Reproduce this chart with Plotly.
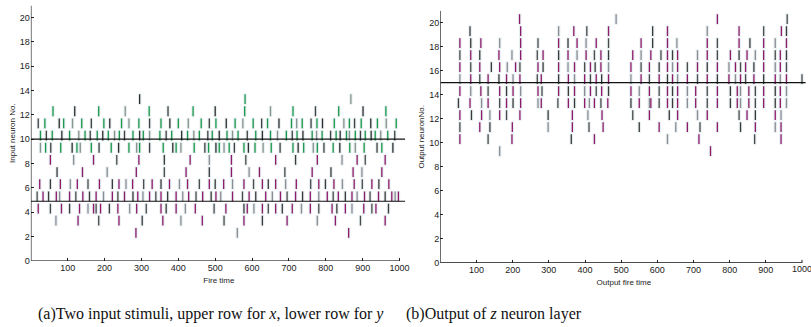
import plotly.graph_objects as go

# ---------------- data: spike times per neuron row ----------------
# (a) input stimuli: rows 2..13 (x stimulus: rows 8..13 mostly green; y stimulus: rows 2..8 purple)
in_row13 = [295, 581, 868]
in_row12 = [60, 119, 184, 256, 321, 372, 440, 500, 580, 650, 711, 772, 835, 901, 963]
in_row11 = [20, 38, 77, 89, 113, 138, 164, 198, 214, 246, 266, 293, 322, 353, 377, 400, 427, 462,
            484, 502, 530, 554, 575, 603, 626, 642, 673, 707, 721, 736, 760, 776, 791, 823, 849,
            864, 878, 896, 922, 940, 964, 991]
in_row10 = [26, 42, 58, 84, 105, 130, 147, 161, 180, 195, 210, 227, 240, 254, 277, 295, 305, 322,
            350, 367, 382, 409, 425, 442, 457, 480, 492, 511, 532, 547, 562, 587, 610, 628, 650,
            669, 693, 709, 722, 738, 763, 775, 790, 813, 828, 839, 856, 864, 880, 894, 907, 923,
            934, 949, 968, 987]
in_row09 = [26, 40, 54, 81, 112, 125, 134, 164, 185, 218, 238, 266, 287, 295, 322, 359, 385, 394,
            407, 443, 472, 482, 502, 511, 524, 538, 552, 578, 590, 608, 630, 652, 676, 711, 725,
            740, 766, 777, 795, 820, 838, 865, 880, 904, 939, 952, 982]
in_row08 = [53, 116, 170, 233, 293, 362, 432, 484, 544, 583, 664, 718, 777, 844, 885, 907, 961]
in_row07 = [71, 140, 207, 286, 362, 421, 484, 544, 592, 620, 689, 763, 814, 874, 898, 952]
in_row06 = [24, 53, 80, 107, 126, 155, 186, 221, 239, 258, 276, 306, 329, 353, 376, 403, 425, 457,
            484, 500, 523, 547, 578, 604, 628, 644, 664, 691, 720, 759, 781, 799, 822, 845, 877,
            899, 925, 944, 971]
in_row05 = [17, 33, 48, 69, 78, 105, 122, 141, 159, 177, 197, 221, 236, 254, 277, 290, 304, 322,
            339, 353, 371, 394, 412, 428, 448, 466, 489, 502, 515, 547, 574, 592, 610, 637, 655,
            677, 695, 718, 737, 758, 781, 804, 820, 834, 853, 871, 885, 905, 920, 943, 961, 979,
            988, 997]
in_row04 = [20, 53, 83, 105, 132, 155, 170, 177, 189, 213, 236, 268, 287, 313, 353, 367, 394, 419,
            446, 497, 529, 578, 587, 605, 628, 644, 664, 682, 709, 734, 758, 781, 817, 830, 853,
            871, 903, 925, 936, 970]
in_row03 = [68, 128, 184, 239, 302, 358, 407, 465, 524, 578, 628, 695, 777, 826, 894, 961]
in_row02 = [285, 560, 862]

# (b) output of z neuron layer: rows 9..20
out_row20 = [219, 486, 766, 959]
out_row19 = [82, 222, 327, 369, 405, 465, 587, 628, 738, 826, 894, 943, 957]
out_row18 = [54, 84, 112, 164, 222, 270, 327, 353, 378, 403, 431, 465, 555, 587, 628, 654, 738,
             766, 826, 856, 894, 926, 957]
out_row17 = [54, 84, 109, 162, 198, 222, 268, 284, 327, 353, 378, 403, 426, 444, 465, 532, 555,
             582, 610, 628, 642, 656, 711, 738, 766, 802, 826, 848, 871, 894, 926, 940, 957]
out_row16 = [54, 84, 109, 141, 164, 185, 208, 220, 270, 284, 327, 353, 371, 399, 415, 428, 444,
             465, 527, 555, 578, 605, 628, 642, 656, 683, 711, 738, 766, 798, 816, 830, 844, 867,
             894, 926, 940, 957]
out_row15 = [54, 84, 109, 132, 162, 183, 201, 220, 268, 279, 327, 354, 371, 399, 415, 431, 446,
             465, 527, 555, 578, 605, 628, 642, 656, 683, 711, 738, 766, 798, 816, 830, 844, 867,
             894, 926, 940, 957, 1000]
out_row14 = [54, 84, 112, 132, 164, 183, 201, 222, 270, 281, 327, 354, 371, 399, 415, 431, 446,
             465, 527, 550, 578, 605, 628, 642, 656, 683, 706, 738, 766, 802, 821, 830, 853, 871,
             894, 926, 940, 957]
out_row13 = [50, 82, 114, 132, 164, 183, 201, 222, 270, 279, 325, 354, 371, 399, 412, 426, 444,
             463, 527, 550, 578, 582, 605, 628, 642, 656, 683, 706, 738, 766, 802, 821, 830, 853,
             871, 894, 926, 940, 957]
out_row12 = [54, 86, 114, 137, 164, 183, 220, 298, 365, 408, 447, 532, 578, 633, 656, 711, 738,
             826, 848, 871, 926, 942]
out_row11 = [54, 109, 137, 199, 298, 365, 411, 450, 550, 605, 651, 683, 718, 766, 830, 871, 926, 942]
out_row10 = [54, 132, 198, 362, 426, 628, 715, 869, 942]
out_row09 = [164, 747]

in_rows = {13: in_row13, 12: in_row12, 11: in_row11, 10: in_row10, 9: in_row09, 8: in_row08,
           7: in_row07, 6: in_row06, 5: in_row05, 4: in_row04, 3: in_row03, 2: in_row02}
out_rows = {20: out_row20, 19: out_row19, 18: out_row18, 17: out_row17, 16: out_row16,
            15: out_row15, 14: out_row14, 13: out_row13, 12: out_row12, 11: out_row11,
            10: out_row10, 9: out_row09}

x_ticks = [100, 200, 300, 400, 500, 600, 700, 800, 900, 1000]
y_ticks = [0, 2, 4, 6, 8, 10, 12, 14, 16, 18, 20]

GREEN_CYCLE = ["#18984a", "#2e2e2e", "#18984a", "#8a948e", "#18984a", "#404040"]
PURPLE_CYCLE = ["#8e1a6a", "#3a3a3a", "#8e1a6a", "#8d8d95", "#8e1a6a", "#4a4a4a"]
ROW_OFFSET = 0.3


def spike_traces(rows, xaxis, yaxis, green_rows, size):
    xs, ys, cols = [], [], []
    for row, times in rows.items():
        cyc = GREEN_CYCLE if row in green_rows else PURPLE_CYCLE
        for i, t in enumerate(times):
            xs.append(t)
            ys.append(row + ROW_OFFSET)
            cols.append(cyc[(i + row) % len(cyc)])
    halo = go.Scatter(x=xs, y=ys, mode="markers", xaxis=xaxis, yaxis=yaxis, hoverinfo="skip",
                      marker=dict(symbol="line-ns", size=size + 1,
                                  line=dict(width=3.5, color="rgba(185,210,215,0.35)")))
    core = go.Scatter(x=xs, y=ys, mode="markers", xaxis=xaxis, yaxis=yaxis,
                      marker=dict(symbol="line-ns", size=size, line=dict(width=1.3, color=cols)))
    return [halo, core]


fig = go.Figure()
for tr in spike_traces(in_rows, "x", "y", {9, 10, 11, 12, 13}, 7):
    fig.add_trace(tr)
for tr in spike_traces(out_rows, "x2", "y2", set(), 7):
    fig.add_trace(tr)

TICKFONT = dict(family="Liberation Sans, Arial", size=9, color="#222")
TITLEFONT = dict(family="Liberation Sans, Arial", size=8, color="#222")

# last tick label of the right panel runs past the page edge (cut off in the original);
# it is drawn on a hidden helper axis occupying the strip below the right panel
LABEL_LEVEL = 0.88
fig.add_trace(go.Scatter(x=[x_ticks[-1]], y=[LABEL_LEVEL], mode="text",
                         text=[str(x_ticks[-1])], textposition="middle center", textfont=TICKFONT,
                         cliponaxis=False, xaxis="x2", yaxis="y3", hoverinfo="skip"))

common_x = dict(range=[0, 1020], tickvals=x_ticks, ticks="inside", ticklen=3, tickcolor="#222",
                showgrid=False, zeroline=False, showline=False, tickfont=TICKFONT)
common_y = dict(range=[0, 21], tickvals=y_ticks, ticks="inside", ticklen=3, tickcolor="#222",
                showgrid=False, zeroline=False, showline=False, tickfont=TICKFONT)

fig.update_layout(
    width=811, height=327, margin=dict(l=0, r=0, t=0, b=0),
    paper_bgcolor="white", plot_bgcolor="white", showlegend=False,
    xaxis=dict(domain=[0.0382, 0.5036], anchor="y",
               title=dict(text="Fire time", font=TITLEFONT, standoff=5), **common_x),
    yaxis=dict(domain=[0.19, 0.983], anchor="x",
               title=dict(text="Input neuron No.", font=TITLEFONT, standoff=3), **common_y),
    xaxis2=dict(domain=[0.545, 0.9993], anchor="y2",
                title=dict(text="Output fire time", font=TITLEFONT, standoff=5),
                **{**common_x, "range": [0, 1015], "tickvals": x_ticks[:-1]}),
    yaxis2=dict(domain=[0.1835, 0.967], anchor="x2",
                title=dict(text="Output neuronNo.", font=TITLEFONT, standoff=3), **common_y),
    yaxis3=dict(domain=[0.0, 0.1835], range=[0, 1], anchor="x2", visible=False,
                showgrid=False, zeroline=False, fixedrange=True),
)

fig.add_shape(type="line", xref="x2", yref="y2", x0=x_ticks[-1], x1=x_ticks[-1], y0=0, y1=0.25,
              line=dict(color="#222", width=1))

# spines (axis lines) and separator lines
line_style = dict(color="#111", width=1.2)
fig.add_shape(type="line", xref="x", yref="y", x0=0, x1=1000, y0=0, y1=0, line=line_style)
fig.add_shape(type="line", xref="x", yref="y", x0=0, x1=0, y0=0, y1=21, line=line_style)
fig.add_shape(type="line", xref="x2", yref="y2", x0=0, x1=1000, y0=0, y1=0, line=line_style)
fig.add_shape(type="line", xref="x2", yref="y2", x0=0, x1=0, y0=0, y1=21, line=line_style)
fig.add_shape(type="line", xref="x", yref="y", x0=0, x1=1015, y0=10, y1=10, line=line_style)
fig.add_shape(type="line", xref="x", yref="y", x0=0, x1=1015, y0=4.9, y1=4.9, line=line_style)
fig.add_shape(type="line", xref="x2", yref="y2", x0=0, x1=1010, y0=15, y1=15, line=line_style)

CAPFONT = dict(family="Liberation Serif, Times New Roman", size=16, color="#111")
fig.add_annotation(text="(a)Two input stimuli, upper row for <i>x</i>, lower row for <i>y</i>",
                   xref="paper", yref="paper", x=0.044, y=0.025, xanchor="left", yanchor="middle",
                   showarrow=False, font=CAPFONT)
fig.add_annotation(text="(b)Output of <i>z</i> neuron layer",
                   xref="paper", yref="paper", x=0.5005, y=0.025, xanchor="left", yanchor="middle",
                   showarrow=False, font=CAPFONT)

fig.write_html("out.html")
